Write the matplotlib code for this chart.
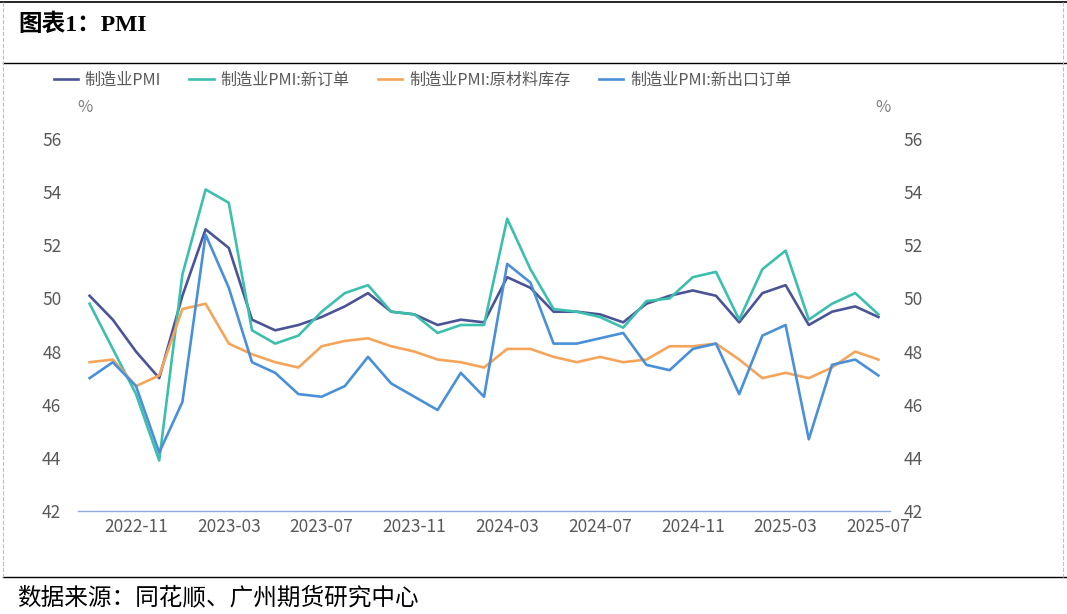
import numpy as np
import pandas as pd
import matplotlib
matplotlib.use('Agg')
import matplotlib.pyplot as plt
from matplotlib.lines import Line2D

plt.rcParams['font.family'] = ['Noto Sans CJK SC', 'DejaVu Sans']

months = pd.date_range('2022-09', '2025-07', freq='MS').strftime('%Y-%m').tolist()

pmi = [50.1, 49.2, 48.0, 47.0, 50.1, 52.6, 51.9, 49.2, 48.8, 49.0, 49.3, 49.7,
       50.2, 49.5, 49.4, 49.0, 49.2, 49.1, 50.8, 50.4, 49.5, 49.5, 49.4, 49.1,
       49.8, 50.1, 50.3, 50.1, 49.1, 50.2, 50.5, 49.0, 49.5, 49.7, 49.3]
new_orders = [49.8, 48.1, 46.4, 43.9, 50.9, 54.1, 53.6, 48.8, 48.3, 48.6, 49.5, 50.2,
              50.5, 49.5, 49.4, 48.7, 49.0, 49.0, 53.0, 51.1, 49.6, 49.5, 49.3, 48.9,
              49.9, 50.0, 50.8, 51.0, 49.2, 51.1, 51.8, 49.2, 49.8, 50.2, 49.4]
raw_stock = [47.6, 47.7, 46.7, 47.1, 49.6, 49.8, 48.3, 47.9, 47.6, 47.4, 48.2, 48.4,
             48.5, 48.2, 48.0, 47.7, 47.6, 47.4, 48.1, 48.1, 47.8, 47.6, 47.8, 47.6,
             47.7, 48.2, 48.2, 48.3, 47.7, 47.0, 47.2, 47.0, 47.4, 48.0, 47.7]
export_orders = [47.0, 47.6, 46.7, 44.2, 46.1, 52.4, 50.4, 47.6, 47.2, 46.4, 46.3, 46.7,
                 47.8, 46.8, 46.3, 45.8, 47.2, 46.3, 51.3, 50.6, 48.3, 48.3, 48.5, 48.7,
                 47.5, 47.3, 48.1, 48.3, 46.4, 48.6, 49.0, 44.7, 47.5, 47.7, 47.1]

names = ['制造业PMI', '制造业PMI:新订单', '制造业PMI:原材料库存', '制造业PMI:新出口订单']
colors = ['#4b5496', '#3dbfae', '#f5a55a', '#4a90d9']
series = [pmi, new_orders, raw_stock, export_orders]

W, H = 1067, 614
fig = plt.figure(figsize=(W / 100, H / 100), dpi=100)
ax = fig.add_axes([78 / W, 1 - 511 / H, (890 - 78) / W, (511 - 139) / H])

x = np.arange(len(months))
for s, c, n in zip(series, colors, names):
    ax.plot(x, s, color=c, lw=1.9, label=n)

ax.set_xlim(-0.5, len(months) - 0.5)
ax.set_ylim(42, 56)
ax.set_yticks(np.arange(42, 57, 2))
tick_idx = list(range(2, len(months), 4))
ax.set_xticks(tick_idx)
ax.set_xticklabels([months[i] for i in tick_idx])

for sp in ['top', 'right', 'left']:
    ax.spines[sp].set_visible(False)
ax.spines['bottom'].set_color('#8faadc')
ax.spines['bottom'].set_linewidth(1.0)
ax.tick_params(axis='both', length=0, labelsize=12.5, colors='#595959')
ax.tick_params(axis='x', pad=5)
ax.tick_params(axis='y', pad=12)

ax2 = ax.twinx()
ax2.set_ylim(42, 56)
ax2.set_yticks(np.arange(42, 57, 2))
for sp in ['top', 'right', 'left', 'bottom']:
    ax2.spines[sp].set_visible(False)
ax2.tick_params(axis='y', length=0, labelsize=12.5, colors='#595959', pad=10)

fig.text(85 / W, 1 - 107 / H, '%', ha='center', va='center', fontsize=12, color='#7f7f7f')
fig.text(883 / W, 1 - 107 / H, '%', ha='center', va='center', fontsize=12, color='#7f7f7f')

handles, labels = ax.get_legend_handles_labels()
fig.legend(handles, labels, loc='center left', bbox_to_anchor=(39 / W, 1 - 80 / H),
           ncol=4, frameon=False, fontsize=11.6, handlelength=1.5, handletextpad=0.4,
           columnspacing=1.8, labelcolor='#595959')

# frame lines of the report box
fig.add_artist(Line2D([0, 1], [1 - 2 / H, 1 - 2 / H], color='black', lw=1.2))
fig.add_artist(Line2D([3 / W, 1], [1 - 63 / H, 1 - 63 / H], color='black', lw=1.0))
fig.add_artist(Line2D([3 / W, 1], [1 - 577 / H, 1 - 577 / H], color='black', lw=1.0))
fig.add_artist(Line2D([3 / W, 3 / W], [1 - 2 / H, 1 - 577 / H], color='#bfbfbf', lw=0.8, ls='--'))
fig.add_artist(Line2D([1063 / W, 1063 / W], [1 - 2 / H, 1 - 577 / H], color='#bfbfbf', lw=0.8, ls='--'))

fig.text(18 / W, 1 - 25 / H, '图表1：PMI', ha='left', va='center', fontsize=17,
         fontweight='bold', family=['Liberation Serif', 'Noto Sans CJK SC'])
fig.text(17 / W, 1 - 598 / H, '数据来源：同花顺、广州期货研究中心', ha='left', va='center',
         fontsize=17, family=['Liberation Serif', 'Noto Sans CJK SC'])

fig.savefig('out.png', dpi=100)
